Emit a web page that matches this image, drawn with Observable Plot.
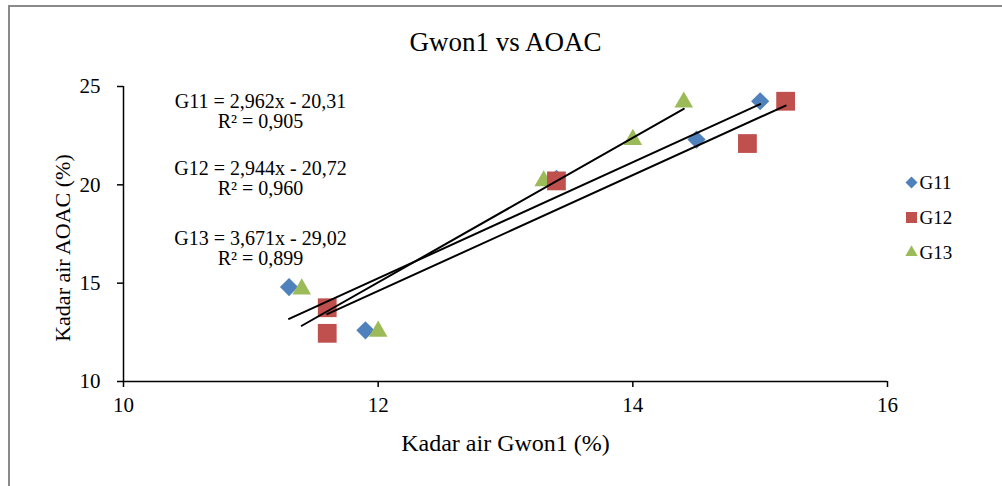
<!DOCTYPE html>
<html>
<head>
<meta charset="utf-8">
<script src="https://cdn.jsdelivr.net/npm/d3@7"></script>
<script src="https://cdn.jsdelivr.net/npm/@observablehq/plot@0.6"></script>
<style>
  html, body { margin: 0; padding: 0; background: #fff; }
  #wrap { position: relative; width: 1002px; height: 486px; overflow: hidden; background: #fff; }
  #border { position: absolute; left: 8px; top: 5px; right: -10px; bottom: -10px;
            border-top: 2px solid #8a8a8a; border-left: 2px solid #8a8a8a; pointer-events: none; }
  #chart { position: absolute; left: 0; top: 0; }
</style>
</head>
<body>
<div id="wrap"><div id="chart"></div><div id="border"></div></div>
<script>
// ---- data ----
const seriesNames = ["G11", "G12", "G13"];
const seriesColors = ["#4F81BD", "#C0504D", "#9BBB59"];
const seriesSymbols = ["diamond2", "square", "triangle"];

const g11X = [11.3, 11.9, 13.4, 14.5, 15.0];
const g11Y = [14.8, 12.6, 20.3, 22.3, 24.25];
const g12X = [11.6, 11.6, 13.4, 14.9, 15.2];
const g12Y = [13.75, 12.45, 20.2, 22.1, 24.25];
const g13X = [11.4, 12.0, 13.3, 14.0, 14.4];
const g13Y = [14.7, 12.55, 20.2, 22.3, 24.2];

const equations = ["G11 = 2,962x - 20,31", "G12 = 2,944x - 20,72", "G13 = 3,671x - 29,02"];
const rSquared = ["R² = 0,905", "R² = 0,960", "R² = 0,899"];

const xTicks = [10, 12, 14, 16];
const yTicks = [10, 15, 20, 25];

const titleText = "Gwon1 vs AOAC";
const xLabel = "Kadar air Gwon1 (%)";
const yLabel = "Kadar air AOAC (%)";

// ---- build rows ----
const xs = [g11X, g12X, g13X];
const ys = [g11Y, g12Y, g13Y];
const rows = [];
seriesNames.forEach((s, i) => xs[i].forEach((x, j) => rows.push({series: s, x, y: ys[i][j]})));

const symbolR = {G11: 8.2, G12: 10.6, G13: 6.9};
const legendR = {G11: 5.4, G12: 6.2, G13: 4.6};
const drawOrder = ["G11", "G13", "G12"];
const font = "'Liberation Serif', 'Times New Roman', serif";

const marks = [
  Plot.axisX({ticks: xTicks, tickFormat: d => String(d), tickSize: 6, tickPadding: 10, fontSize: 21, label: null, strokeWidth: 1.5}),
  Plot.axisY({ticks: yTicks, tickFormat: d => String(d), tickSize: 6, tickPadding: 17, fontSize: 21, label: null, strokeWidth: 1.5}),
  Plot.ruleX([10], {stroke: "black", strokeWidth: 1.5}),
  Plot.ruleY([10], {stroke: "black", strokeWidth: 1.5})
];

drawOrder.forEach(s => {
  marks.push(Plot.dot(rows.filter(d => d.series === s), {
    x: "x", y: "y", symbol: "series", fill: "series", r: symbolR[s]
  }));
});

marks.push(Plot.linearRegressionY(rows, {x: "x", y: "y", z: "series", stroke: "black", strokeWidth: 2, ci: 0}));

// equations
const eqDy = [25, 92, 162];
seriesNames.forEach((s, i) => {
  marks.push(Plot.text([equations[i] + "\n" + rSquared[i]], {
    frameAnchor: "top-left", dx: 137, dy: eqDy[i], fontSize: 20, lineHeight: 1,
    fill: "black", textAnchor: "middle", lineAnchor: "middle"
  }));
});

// legend
seriesNames.forEach((s, i) => {
  marks.push(Plot.dot([s], {frameAnchor: "top-right", dx: 24, dy: 96 + 35 * i,
    symbol: d => d, fill: d => d, r: legendR[s]}));
  marks.push(Plot.text([s], {frameAnchor: "top-right", dx: 32, dy: 96 + 35 * i,
    textAnchor: "start", lineAnchor: "middle", fontSize: 19, fill: "black"}));
});

// title & axis labels
marks.push(Plot.text([titleText], {frameAnchor: "top", dy: -44, fontSize: 27, fill: "black",
  textAnchor: "middle", lineAnchor: "middle"}));
marks.push(Plot.text([xLabel], {frameAnchor: "bottom", dy: 62, fontSize: 24, fill: "black",
  textAnchor: "middle", lineAnchor: "middle"}));
marks.push(Plot.text([yLabel], {frameAnchor: "left", dx: -61, dy: 14, rotate: -90, fontSize: 22, fill: "black",
  textAnchor: "middle", lineAnchor: "middle"}));

const chart = Plot.plot({
  width: 1002, height: 486,
  marginLeft: 123, marginRight: 115, marginTop: 86, marginBottom: 105,
  style: {fontFamily: font, background: "transparent", color: "black"},
  x: {domain: [10, 16]},
  y: {domain: [10, 25]},
  color: {domain: seriesNames, range: seriesColors},
  symbol: {domain: seriesNames, range: seriesSymbols},
  marks
});
document.getElementById("chart").appendChild(chart);
</script>
</body>
</html>
